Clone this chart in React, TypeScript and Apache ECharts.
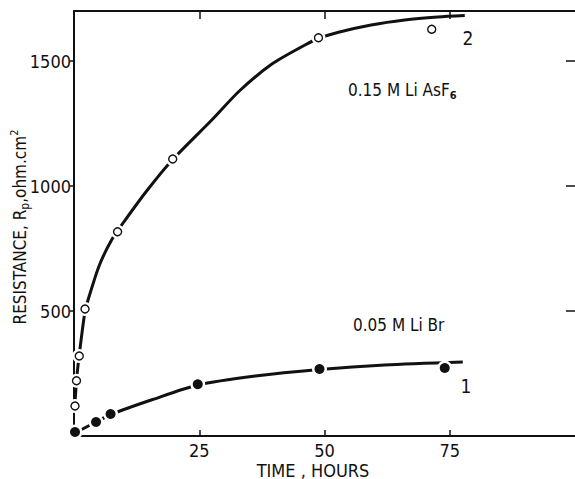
import React, { useEffect, useRef } from "react";
import * as echarts from "echarts";

// Measured points (time in hours, resistance in ohm.cm2)
const asf6Points: [number, number][] = [
  [0.2, 120], [0.5, 221], [1.05, 320], [2.2, 508], [8.7, 817], [19.7, 1108], [48.8, 1593], [71.4, 1627],
];
const asf6Curve: [number, number][] = [
  [0.1, 100], [0.5, 221], [1.05, 325], [2.2, 500], [2.8, 544], [5, 680], [7.5, 784], [9.8, 852],
  [14.5, 980], [19.7, 1106], [27.6, 1266], [33, 1380], [39.5, 1488], [46.2, 1565], [48.8, 1590],
  [52.8, 1615], [59.3, 1644], [66, 1664], [72.6, 1676], [78, 1682],
];
const librPoints: [number, number][] = [
  [0.2, 16], [4.4, 56], [7.3, 88], [24.7, 207], [49, 268], [74, 272],
];
const librCurve: [number, number][] = [
  [0, 10], [4.4, 56], [7.3, 86], [15.7, 146], [24.7, 204], [36.2, 240], [49, 266], [62, 284], [77.6, 296],
];
const xTicks = [25, 50, 75];
const yTicks = [500, 1000, 1500];

const FONT = "'Liberation Sans Narrow', 'DejaVu Sans Condensed', 'Liberation Sans', sans-serif";
const INK = "#111";

export default function App() {
  const ref = useRef<HTMLDivElement>(null);
  useEffect(() => {
    if (!ref.current) return;
    const chart = echarts.init(ref.current, null, { renderer: "svg" });
    const xBase = {
      type: "value" as const,
      min: 0,
      max: 100,
      interval: 25,
      splitLine: { show: false },
      axisLine: { show: true, onZero: false, lineStyle: { color: INK, width: 2 } },
    };
    const yBase = {
      type: "value" as const,
      min: 0,
      max: 1700,
      interval: 500,
      splitLine: { show: false },
    };
    const plain = (v: number) => String(v);
    chart.setOption({
      animation: false,
      backgroundColor: "#fff",
      grid: { left: 74, top: 11, width: 504, height: 425, containLabel: false },
      xAxis: [
        {
          ...xBase,
          position: "bottom",
          axisTick: { inside: true, length: 6, lineStyle: { color: INK, width: 1.5 }, customValues: xTicks },
          axisLabel: {
            customValues: xTicks,
            formatter: plain,
            color: INK,
            fontSize: 18,
            fontFamily: FONT,
            margin: 5,
          },
        },
        {
          ...xBase,
          position: "top",
          axisTick: { inside: true, length: 8, lineStyle: { color: INK, width: 1.5 }, customValues: xTicks },
          axisLabel: { show: false },
        },
      ],
      yAxis: [
        {
          ...yBase,
          position: "left",
          axisLine: { show: true, onZero: false, lineStyle: { color: INK, width: 2 } },
          axisTick: { inside: false, length: 4, lineStyle: { color: INK, width: 1.5 }, customValues: yTicks },
          axisLabel: {
            customValues: yTicks,
            formatter: plain,
            color: INK,
            fontSize: 18,
            fontFamily: FONT,
            margin: 3,
          },
        },
        {
          ...yBase,
          position: "right",
          axisLine: { show: false, onZero: false },
          axisTick: { show: true, inside: true, length: 9, lineStyle: { color: INK, width: 1.5 }, customValues: yTicks },
          axisLabel: { show: false },
        },
      ],
      series: [
        {
          type: "line",
          data: asf6Curve,
          smooth: 0.25,
          showSymbol: false,
          lineStyle: { color: INK, width: 3 },
          silent: true,
          z: 1,
        },
        {
          type: "line",
          data: librCurve,
          smooth: 0.25,
          showSymbol: false,
          lineStyle: { color: INK, width: 3 },
          silent: true,
          z: 1,
        },
        {
          type: "scatter",
          data: asf6Points,
          symbolSize: 14,
          itemStyle: { color: "#fff", opacity: 1 },
          z: 2,
        },
        {
          type: "scatter",
          data: librPoints,
          symbolSize: 15,
          itemStyle: { color: "#fff", opacity: 1 },
          z: 2,
        },
        {
          type: "scatter",
          data: asf6Points,
          symbolSize: 8,
          itemStyle: { color: "#fff", borderColor: INK, borderWidth: 1.4, opacity: 1 },
          z: 3,
        },
        {
          type: "scatter",
          data: librPoints,
          symbolSize: 10,
          itemStyle: { color: INK, opacity: 1 },
          z: 3,
        },
      ],
      graphic: [
        {
          type: "text",
          x: 20,
          y: 227,
          rotation: Math.PI / 2,
          style: {
            text: "{a|RESISTANCE, R}{s|p}{a|,ohm.cm}{u|2}",
            align: "center",
            verticalAlign: "middle",
            fill: INK,
            rich: {
              a: { fontSize: 17, fontFamily: FONT, lineHeight: 22, fill: INK },
              s: { fontSize: 12, fontFamily: FONT, lineHeight: 12, verticalAlign: "bottom", fill: INK },
              u: { fontSize: 11, fontFamily: FONT, lineHeight: 12, verticalAlign: "top", fill: INK },
            },
          },
        },
        {
          type: "text",
          x: 313,
          y: 470,
          style: { text: "TIME , HOURS", fontSize: 18, fontFamily: FONT, fill: INK, align: "center", verticalAlign: "middle" },
        },
        {
          type: "text",
          x: 348,
          y: 90,
          style: {
            text: "{a|0.15 M Li AsF}{s|6}",
            align: "left",
            verticalAlign: "middle",
            rich: {
              a: { fontSize: 17, fontFamily: FONT, lineHeight: 22, fill: INK },
              s: { fontSize: 11, fontFamily: FONT, lineHeight: 12, verticalAlign: "bottom", fill: INK, fontWeight: "bold" },
            },
          },
        },
        {
          type: "text",
          x: 353,
          y: 325,
          style: { text: "0.05 M Li Br", fontSize: 17, fontFamily: FONT, fill: INK, align: "left", verticalAlign: "middle" },
        },
        {
          type: "text",
          x: 468,
          y: 38,
          style: { text: "2", fontSize: 19, fontFamily: FONT, fill: INK, align: "center", verticalAlign: "middle" },
        },
        {
          type: "text",
          x: 466,
          y: 386,
          style: { text: "1", fontSize: 19, fontFamily: FONT, fill: INK, align: "center", verticalAlign: "middle" },
        },
      ],
    });
    return () => chart.dispose();
  }, []);
  return (
    <div
      ref={ref}
      style={{ position: "absolute", left: 0, top: 0, width: 575, height: 479, background: "#fff" }}
    />
  );
}
